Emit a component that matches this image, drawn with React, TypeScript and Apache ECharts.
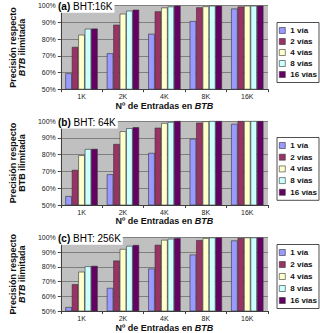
import React, { useEffect, useRef } from "react";
import * as echarts from "echarts";

const categories = ["1K", "2K", "4K", "8K", "16K"];
const ways = ["1 vía", "2 vías", "4 vías", "8 vías", "16 vías"];
const wayColors = ["#9999ff", "#993366", "#ffffcc", "#ccffff", "#660066"];
const yTicks = [50, 60, 70, 80, 90, 100];

// Precision (%) per associativity, one row per way count, one value per BTB size
const bht16K = [
  [59.5, 71.5, 83.2, 90.8, 98.3],
  [75.3, 88.6, 96.6, 99.0, 99.5],
  [82.6, 95.2, 98.9, 99.6, 100],
  [86.2, 97.0, 99.5, 100, 100],
  [86.3, 97.6, 100, 100, 100],
];
const bht64K = [
  [55.3, 68.3, 81.0, 89.4, 98.3],
  [70.9, 86.3, 96.0, 99.0, 100],
  [79.6, 93.9, 98.8, 99.8, 100],
  [83.3, 95.7, 99.4, 100, 100],
  [83.4, 96.3, 100, 100, 100],
];
const bht256K = [
  [52.7, 65.7, 78.9, 88.4, 98.0],
  [68.2, 84.3, 95.0, 98.2, 99.7],
  [76.7, 92.2, 98.4, 99.6, 100],
  [80.4, 94.3, 99.1, 100, 100],
  [80.7, 94.9, 99.6, 100, 100],
];

const panelTags = ["(a)", "(b)", "(c)"];
const panelNames = ["BHT:16K", "BHT: 64K", "BHT: 256K"];
const panelData = [bht16K, bht64K, bht256K];
const italicBTB = [true, false, true];

const FONT = "'Liberation Sans', Arial, sans-serif";

export default function App() {
  const ref = useRef<HTMLDivElement>(null);

  useEffect(() => {
    if (!ref.current) return;
    const chart = echarts.init(ref.current, null, { renderer: "svg" });

    const layout = [
      { top: 5.7, height: 83.5, legendTop: 22.5, itemGap: 1, labelY: 5.7, nameGapX: 11.5 },
      { top: 121, height: 84, legendTop: 137.5, itemGap: 1.7, labelY: 121.5, nameGapX: 11 },
      { top: 237.5, height: 73.5, legendTop: 244.5, itemGap: 2, labelY: 237.8, nameGapX: 12 },
    ];

    const grids = layout.map((l) => ({
      left: 42,
      top: l.top,
      width: 226,
      height: l.height,
      show: true,
      backgroundColor: "#c0c0c0",
      borderWidth: 0,
    }));

    const xAxes = layout.map((l, i) => ({
      type: "category",
      gridIndex: i,
      data: categories,
      axisLine: { lineStyle: { color: "#404040", width: 1 } },
      axisTick: { show: true, length: 3, lineStyle: { color: "#404040" } },
      axisLabel: { fontSize: 7, color: "#222", fontFamily: FONT, margin: 4 },
      name: "Nº de Entradas en {i|BTB}",
      nameLocation: "middle",
      nameGap: l.nameGapX,
      nameTextStyle: {
        fontSize: 9,
        fontWeight: "bold",
        color: "#111",
        fontFamily: FONT,
        rich: {
          i: { fontSize: 9, fontWeight: "bold", fontStyle: "italic", color: "#111", fontFamily: FONT },
        },
      },
    }));

    const yAxes = layout.map((_, i) => ({
      type: "value",
      gridIndex: i,
      min: yTicks[0],
      max: yTicks[yTicks.length - 1],
      interval: 10,
      axisLine: { show: true, lineStyle: { color: "#404040", width: 1 } },
      axisTick: { show: true, length: 3, lineStyle: { color: "#404040" } },
      axisLabel: {
        fontSize: 7,
        color: "#222",
        fontFamily: FONT,
        margin: 5,
        formatter: "{value}%",
      },
      splitLine: { show: true, lineStyle: { color: "#7f7f7f", width: 1 } },
      name: "Precisión respecto\n{" + (italicBTB[i] ? "i" : "n") + "|BTB} ilimitada",
      nameLocation: "middle",
      nameRotate: 90,
      nameGap: 23,
      nameTextStyle: {
        fontSize: 9,
        fontWeight: "bold",
        color: "#111",
        lineHeight: 9.5,
        fontFamily: FONT,
        rich: {
          i: { fontSize: 9, fontWeight: "bold", fontStyle: "italic", color: "#111", fontFamily: FONT, lineHeight: 9.5 },
          n: { fontSize: 9, fontWeight: "bold", color: "#111", fontFamily: FONT, lineHeight: 9.5 },
        },
      },
    }));

    const series: any[] = [];
    panelData.forEach((rows, p) => {
      rows.forEach((vals, w) => {
        series.push({
          type: "bar",
          name: ways[w],
          xAxisIndex: p,
          yAxisIndex: p,
          data: vals,
          barGap: "0%",
          barCategoryGap: "22%",
          itemStyle: { color: wayColors[w], borderColor: "#333", borderWidth: 0.6 },
        });
      });
    });

    const legends = layout.map((l) => ({
      orient: "vertical",
      left: 277,
      top: l.legendTop,
      data: ways,
      icon: "rect",
      itemWidth: 6,
      itemHeight: 6,
      itemGap: l.itemGap,
      padding: [3, 2, 3, 2],
      backgroundColor: "#ffffff",
      borderColor: "#222",
      borderWidth: 0.8,
      selectedMode: false,
      itemStyle: { borderColor: "#333", borderWidth: 0.6 },
      textStyle: { fontSize: 8, fontWeight: "bold", color: "#111", fontFamily: FONT, lineHeight: 10 },
    }));

    // Panel captions: white box with a bold tag followed by the BHT size
    const titles = layout.map((l, i) => ({
      text: "{b|" + panelTags[i] + "}{r| " + panelNames[i] + "}",
      left: 56,
      top: l.labelY - 6,
      padding: [1, 2, 1, 2],
      backgroundColor: "#ffffff",
      z: 10,
      textStyle: {
        fontSize: 10,
        fontWeight: "normal",
        fontFamily: FONT,
        color: "#000",
        lineHeight: 11,
        rich: {
          b: { fontSize: 10, fontWeight: "bold", fontFamily: FONT, color: "#000", lineHeight: 11 },
          r: { fontSize: 10, fontWeight: "normal", fontFamily: FONT, color: "#000", lineHeight: 11 },
        },
      },
    }));

    chart.setOption({
      animation: false,
      backgroundColor: "#ffffff",
      title: titles,
      grid: grids,
      xAxis: xAxes,
      yAxis: yAxes,
      legend: legends,
      series,
    });

    return () => chart.dispose();
  }, []);

  return (
    <div
      ref={ref}
      style={{ position: "absolute", left: 0, top: 0, width: 320, height: 333 }}
    />
  );
}
